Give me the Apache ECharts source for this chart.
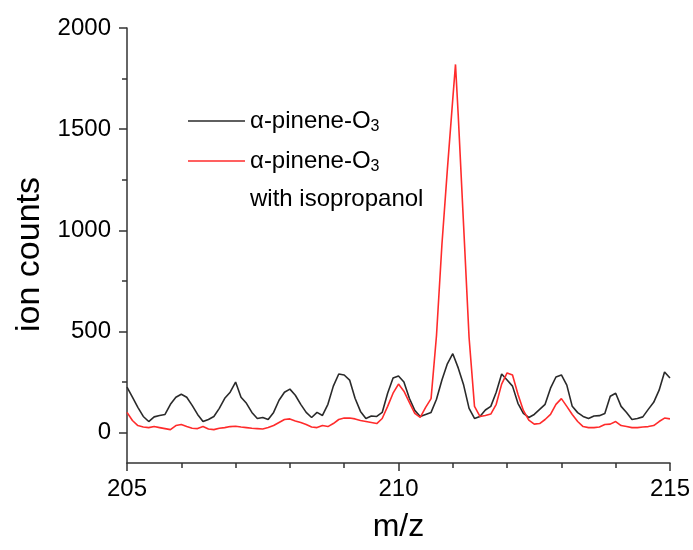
<!DOCTYPE html>
<html>
<head>
<meta charset="utf-8">
<script src="https://cdn.jsdelivr.net/npm/echarts@6/dist/echarts.min.js"></script>
<style>html,body{margin:0;padding:0;background:#fff}#c{width:693px;height:550px}</style>
</head>
<body>
<div id="c"></div>
<script>
// m/z values (amu)
var mzBlack = [205.0,205.1,205.2,205.3,205.4,205.5,205.6,205.7,205.8,205.9,
206.0,206.1,206.2,206.3,206.4,206.5,206.6,206.7,206.8,206.9,
207.0,207.1,207.2,207.3,207.4,207.5,207.6,207.7,207.8,207.9,
208.0,208.1,208.2,208.3,208.4,208.5,208.6,208.7,208.8,208.9,
209.0,209.1,209.2,209.3,209.4,209.5,209.6,209.7,209.8,209.9,
210.0,210.1,210.2,210.3,210.4,210.5,210.6,210.7,210.8,210.9,
211.0,211.1,211.2,211.3,211.4,211.5,211.6,211.7,211.8,211.9,
212.0,212.1,212.2,212.3,212.4,212.5,212.6,212.7,212.8,212.9,
213.0,213.1,213.2,213.3,213.4,213.5,213.6,213.7,213.8,213.9,
214.0,214.1,214.2,214.3,214.4,214.5,214.6,214.7,214.8,214.9,215.0];
var countsBlack = [225,175,125,80,55,78,85,90,140,175,
190,175,135,90,55,65,80,120,170,200,
250,175,145,100,70,75,65,100,160,200,
215,185,140,100,75,100,85,140,230,290,
285,260,170,105,70,82,80,100,195,270,
280,250,170,110,80,90,100,165,260,340,
390,320,235,120,70,80,112,130,200,290,
260,230,145,95,75,90,115,140,220,275,
285,235,130,99,80,70,82,84,95,180,
195,130,100,65,70,78,115,150,210,300,270];

var mzRed = [205.0,205.1,205.2,205.3,205.4,205.5,205.6,205.7,205.8,205.9,
206.0,206.1,206.2,206.3,206.4,206.5,206.6,206.7,206.8,206.9,
207.0,207.1,207.2,207.3,207.4,207.5,207.6,207.7,207.8,207.9,
208.0,208.1,208.2,208.3,208.4,208.5,208.6,208.7,208.8,208.9,
209.0,209.1,209.2,209.3,209.4,209.5,209.6,209.7,209.8,209.9,
210.0,210.1,210.2,210.3,210.4,210.5,210.6,210.7,210.8,210.9,
211.0,211.05,211.1,211.2,211.3,211.4,211.5,211.6,211.7,211.8,211.9,
212.0,212.1,212.2,212.3,212.4,212.5,212.6,212.7,212.8,212.9,
213.0,213.1,213.2,213.3,213.4,213.5,213.6,213.7,213.8,213.9,
214.0,214.1,214.2,214.3,214.4,214.5,214.6,214.7,214.8,214.9,215.0];
var countsRed = [100,60,35,28,25,30,25,20,15,35,
40,30,22,20,30,18,15,22,25,30,
32,28,25,22,20,18,25,35,50,65,
68,58,50,40,28,25,35,30,45,65,
72,72,68,60,55,50,45,70,130,195,
240,205,150,95,75,125,168,480,930,1300,
1650,1820,1570,1020,470,130,80,85,92,140,240,
295,285,190,110,62,42,45,65,90,140,
168,130,90,55,30,25,25,28,40,42,
55,35,30,25,25,28,30,35,55,72,68];

var xTicks = [205, 210, 215];
var yTicks = [0, 500, 1000, 1500, 2000];
var yMinorTicks = [250, 750, 1250, 1750];
var seriesNames = ['α-pinene-O{sub|3}', 'α-pinene-O{sub|3} '];
var extraLegendLine = 'with isopropanol';

function pairs(xs, ys) { return xs.map(function (x, i) { return [x, ys[i]]; }); }

var FONT = '"Liberation Sans", Arial, sans-serif';
var chart = echarts.init(document.getElementById('c'), null, {renderer: 'canvas'});
chart.setOption({
  animation: false,
  backgroundColor: '#fff',
  grid: {left: 127, right: 23, top: 28, bottom: 87, containLabel: false},
  legend: {
    orient: 'vertical', left: 188, top: 106, padding: 0,
    itemWidth: 57, itemHeight: 14, itemGap: 11,
    icon: 'path://M0,0 L57,0 L57,1.6 L0,1.6 Z',
    selectedMode: false,
    data: [seriesNames[0], seriesNames[1]],
    formatter: function (n) { return n; },
    textStyle: {
      fontFamily: FONT, fontSize: 24, color: '#000', lineHeight: 28, padding: [0,0,0,0],
      rich: {sub: {fontFamily: FONT, fontSize: 16, color: '#000', verticalAlign: 'bottom', lineHeight: 28, padding: [13,0,0,0]}}
    }
  },
  graphic: [{
    type: 'text', left: 250, top: 187,
    style: {text: extraLegendLine, fontFamily: 'Liberation Sans', fontSize: 24, fill: '#000'}
  }],
  xAxis: {
    type: 'value', min: 205, max: 215, interval: 5,
    name: 'm/z', nameLocation: 'middle', nameGap: 48,
    nameTextStyle: {fontFamily: FONT, fontSize: 32, color: '#000'},
    axisLine: {show: true, onZero: false, lineStyle: {color: '#333', width: 1.5}},
    axisTick: {show: true, length: 8, inside: false, lineStyle: {color: '#333', width: 1.5}},
    minorTick: {show: true, splitNumber: 5, length: 5, lineStyle: {color: '#333', width: 1.5}},
    axisLabel: {fontFamily: FONT, fontSize: 24, color: '#000', margin: 14,
      customValues: xTicks, formatter: function (v) { return String(v); }},
    splitLine: {show: false}, minorSplitLine: {show: false}
  },
  yAxis: [{
    type: 'value', min: -150, max: 2000,
    name: 'ion counts', nameLocation: 'middle', nameGap: 80, nameRotate: 90,
    nameTextStyle: {fontFamily: FONT, fontSize: 34, color: '#000', padding: [0, 18, 0, 0]},
    axisLine: {show: true, onZero: false, lineStyle: {color: '#333', width: 1.5}},
    axisTick: {show: true, length: 8, inside: false, customValues: yTicks, lineStyle: {color: '#333', width: 1.5}},
    axisLabel: {fontFamily: FONT, fontSize: 24, color: '#000', margin: 16, customValues: yTicks,
      formatter: function (v) { return String(v); }},
    splitLine: {show: false}
  }, {
    type: 'value', min: -150, max: 2000, position: 'left',
    axisLine: {show: false},
    axisTick: {show: true, length: 5, inside: false, customValues: yMinorTicks, lineStyle: {color: '#333', width: 1.5}},
    axisLabel: {show: false},
    splitLine: {show: false}
  }],
  series: [{
    name: seriesNames[0], type: 'line', symbol: 'none', smooth: false,
    data: pairs(mzBlack, countsBlack),
    itemStyle: {color: '#2a2a2a'},
    lineStyle: {color: '#2a2a2a', width: 1.6}
  }, {
    name: seriesNames[1], type: 'line', symbol: 'none', smooth: false,
    data: pairs(mzRed, countsRed),
    itemStyle: {color: '#ff2b2b'},
    lineStyle: {color: '#ff2b2b', width: 1.6}
  }]
});
</script>
</body>
</html>
